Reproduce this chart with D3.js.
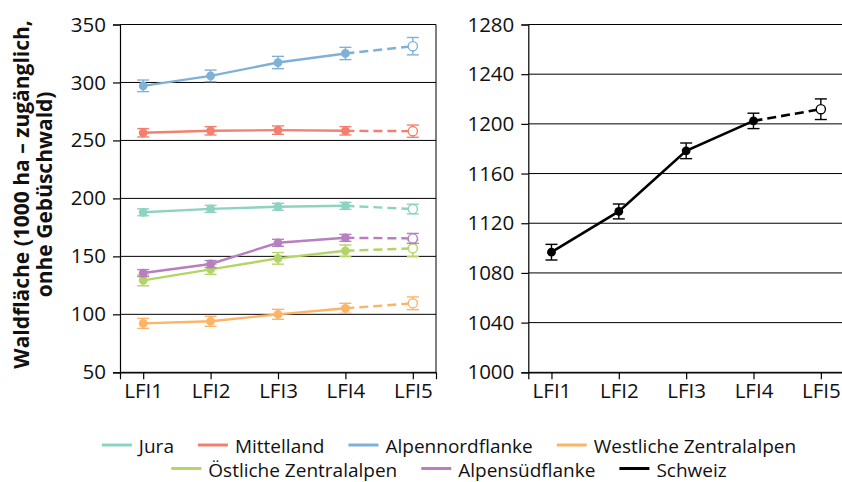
<!DOCTYPE html>
<html>
<head>
<meta charset="utf-8">
<script src="https://cdn.jsdelivr.net/npm/d3@7"></script>
<style>
  body { margin: 0; background: #fff; }
  svg { display: block; font-family: "Open Sans", sans-serif; }
</style>
</head>
<body>
<div id="chart"></div>
<script>
// --- Data ---
const surveys = ["LFI1", "LFI2", "LFI3", "LFI4", "LFI5"];

const regionNames = ["Jura", "Mittelland", "Alpennordflanke", "Westliche Zentralalpen", "Östliche Zentralalpen", "Alpensüdflanke"];
const regionColors = ["#8dd3c2", "#f3806f", "#7fb1d7", "#fdb466", "#b2d565", "#b77fc0"];

const juraValues = [188, 191, 192.8, 193.6, 190.8];
const juraErrors = [3, 3, 3, 3, 4.2];
const mittellandValues = [256.6, 258.3, 258.9, 258.3, 258];
const mittellandErrors = [3.6, 3.6, 3.6, 3.6, 5.3];
const alpennordValues = [297.1, 305.7, 317.2, 325, 331.3];
const alpennordErrors = [5, 5, 5.3, 5.3, 7.5];
const westValues = [92.2, 94, 100, 105.2, 109.5];
const westErrors = [4.3, 4.3, 4.3, 4.3, 5.5];
const ostValues = [129.3, 138.8, 148.3, 154.8, 156.9];
const ostErrors = [4.7, 4.3, 5, 5, 7.2];
const suedValues = [135.6, 143.4, 161.7, 166, 165.5];
const suedErrors = [3, 3, 3, 3, 4.3];

const schweizValues = [1096.7, 1129.5, 1178.3, 1202.4, 1211.8];
const schweizErrors = [6.3, 6, 6.3, 6.2, 8.3];

const leftTicks = [50, 100, 150, 200, 250, 300, 350];
const rightTicks = [1000, 1040, 1080, 1120, 1160, 1200, 1240, 1280];

const yLabelLines = ["Waldfläche (1000 ha – zugänglich,", "onhe Gebüschwald)"];
const legendRows = [
  ["Jura", "Mittelland", "Alpennordflanke", "Westliche Zentralalpen"],
  ["Östliche Zentralalpen", "Alpensüdflanke", "Schweiz"]
];

// --- Layout ---
const W = 842, H = 482;
const TOP = 24.5, BOTTOM = 372.3;
const FONT = 20.5;

const svg = d3.select("#chart").append("svg")
  .attr("width", W).attr("height", H);

const leftSeries = [
  { name: "Jura", values: juraValues, errors: juraErrors },
  { name: "Mittelland", values: mittellandValues, errors: mittellandErrors },
  { name: "Alpennordflanke", values: alpennordValues, errors: alpennordErrors },
  { name: "Westliche Zentralalpen", values: westValues, errors: westErrors },
  { name: "Östliche Zentralalpen", values: ostValues, errors: ostErrors },
  { name: "Alpensüdflanke", values: suedValues, errors: suedErrors }
];
const colorOf = d3.scaleOrdinal(regionNames.concat(["Schweiz"]), regionColors.concat(["#000"]));

function drawPanel(x0, x1, domain, ticks, series, opts) {
  const x = d3.scalePoint(surveys, [x0, x1]).padding(0.344);
  const y = d3.scaleLinear(domain, [BOTTOM, TOP]);
  const g = svg.append("g");

  // grid lines
  g.append("g").selectAll("line").data(ticks).join("line")
    .attr("x1", x0).attr("x2", x1)
    .attr("y1", d => y(d)).attr("y2", d => y(d))
    .attr("stroke", "#000").attr("stroke-width", 1);

  // right border
  g.append("line").attr("x1", x1).attr("x2", x1).attr("y1", TOP).attr("y2", BOTTOM)
    .attr("stroke", "#000").attr("stroke-width", 1);

  const yAxis = g.append("g").attr("transform", `translate(${x0},0)`)
    .call(d3.axisLeft(y).tickValues(ticks).tickSize(7).tickPadding(7).tickFormat(d3.format("d")));
  const xAxis = g.append("g").attr("transform", `translate(0,${BOTTOM})`)
    .call(d3.axisBottom(x).tickSize(7).tickPadding(4));
  [yAxis, xAxis].forEach(a => {
    a.select(".domain").attr("stroke", "#000").attr("stroke-width", 1.2);
    a.selectAll(".tick line").attr("stroke", "#000").attr("stroke-width", 1.2);
    a.selectAll(".tick text").attr("fill", "#111").style("font-size", FONT + "px")
      .style("font-family", "'Open Sans', sans-serif");
  });

  const line = d3.line().x((d, i) => x(surveys[i])).y(d => y(d));

  series.forEach(s => {
    const c = colorOf(s.name);
    const sg = g.append("g");
    const solid = s.values.slice(0, 4);
    sg.append("path").attr("d", line(solid))
      .attr("fill", "none").attr("stroke", c).attr("stroke-width", opts.lw);
    sg.append("path")
      .attr("d", d3.line().x(d => x(d[0])).y(d => y(d[1]))([[surveys[3], s.values[3]], [surveys[4], s.values[4]]]))
      .attr("fill", "none").attr("stroke", c).attr("stroke-width", opts.lw)
      .attr("stroke-dasharray", opts.dash);

    const pts = s.values.map((v, i) => ({ k: surveys[i], v, e: s.errors[i], open: i === 4 }));
    // error bars
    sg.selectAll("line.eb").data(pts).join("line").attr("class", "eb")
      .attr("x1", d => x(d.k)).attr("x2", d => x(d.k))
      .attr("y1", d => y(d.v - d.e)).attr("y2", d => y(d.v + d.e))
      .attr("stroke", c).attr("stroke-width", 1.4);
    ["lo", "hi"].forEach(side => {
      sg.selectAll("line.cap" + side).data(pts).join("line").attr("class", "cap" + side)
        .attr("x1", d => x(d.k) - 6).attr("x2", d => x(d.k) + 6)
        .attr("y1", d => y(side === "lo" ? d.v - d.e : d.v + d.e))
        .attr("y2", d => y(side === "lo" ? d.v - d.e : d.v + d.e))
        .attr("stroke", c).attr("stroke-width", 1.4);
    });
    sg.selectAll("circle").data(pts).join("circle")
      .attr("cx", d => x(d.k)).attr("cy", d => y(d.v))
      .attr("r", d => d.open ? 4.6 : 4.4)
      .attr("fill", d => d.open ? "#fff" : c)
      .attr("stroke", c).attr("stroke-width", d => d.open ? 1.4 : 0);
  });
}

drawPanel(120, 436, [50, 350], leftTicks, leftSeries, { lw: 2.4, dash: "9,5" });
drawPanel(528.3, 844, [1000, 1280], rightTicks,
  [{ name: "Schweiz", values: schweizValues, errors: schweizErrors }], { lw: 2.6, dash: "9,5" });

// --- Y axis title ---
const yCenter = (TOP + BOTTOM) / 2 - 4;
svg.append("g").selectAll("text").data(yLabelLines).join("text")
  .attr("transform", (d, i) => `translate(${[21, 44][i]},${yCenter}) rotate(-90)`)
  .attr("text-anchor", "middle").attr("dominant-baseline", "central")
  .style("font-size", "21px").style("font-weight", "bold").attr("fill", "#111")
  .text(d => d);

// --- Legend ---
const LEG_SW = 30, LEG_GAP = 7, LEG_ITEM = 24, LEG_CX = 449;
const legendY = [445, 468.5];
legendRows.forEach((row, r) => {
  const lg = svg.append("g");
  const items = row.map(name => {
    const t = lg.append("text").attr("dominant-baseline", "central")
      .style("font-size", "19px").attr("fill", "#111").text(name);
    return { name, t, w: t.node().getComputedTextLength() };
  });
  const total = d3.sum(items, d => LEG_SW + LEG_GAP + d.w) + LEG_ITEM * (items.length - 1);
  let cx = LEG_CX - total / 2;
  items.forEach(it => {
    lg.append("line").attr("x1", cx).attr("x2", cx + LEG_SW)
      .attr("y1", legendY[r]).attr("y2", legendY[r])
      .attr("stroke", colorOf(it.name)).attr("stroke-width", 3);
    it.t.attr("x", cx + LEG_SW + LEG_GAP).attr("y", legendY[r] + 1);
    cx += LEG_SW + LEG_GAP + it.w + LEG_ITEM;
  });
});
</script>
</body>
</html>
